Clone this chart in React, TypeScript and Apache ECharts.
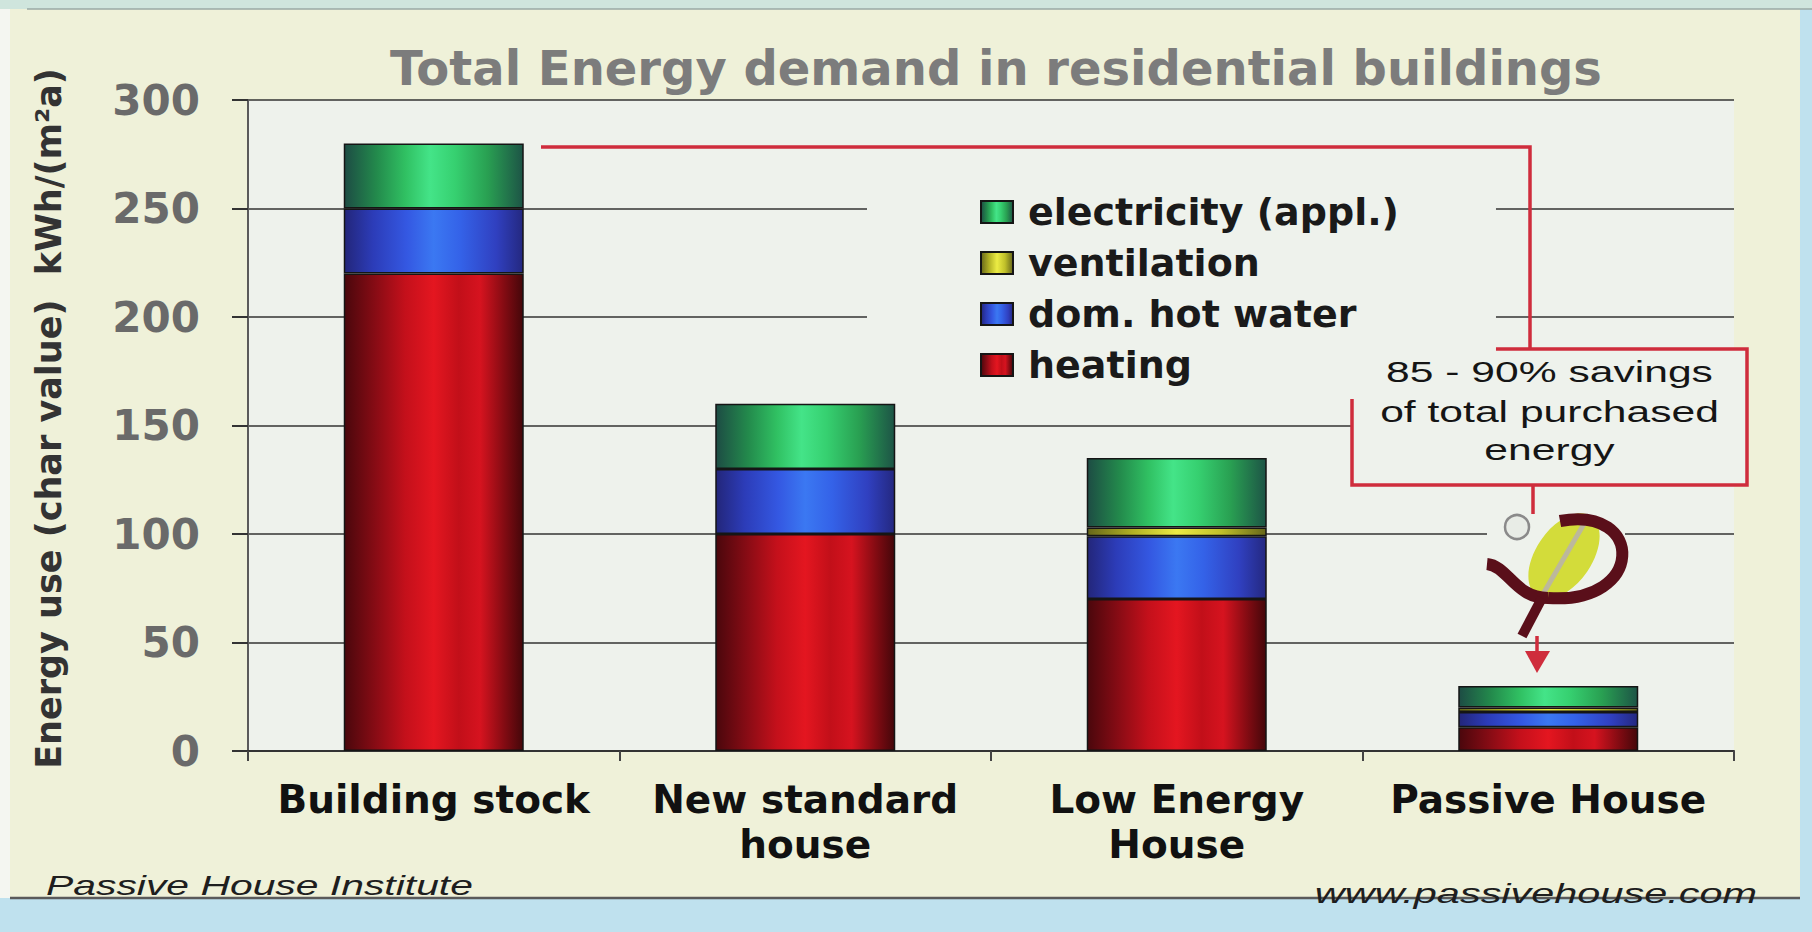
import React, { useEffect, useRef } from 'react';
import * as echarts from 'echarts';

// ---- data ----
const categories = ['Building stock', 'New standard\nhouse', 'Low Energy\nHouse', 'Passive House'];
const heating = [220, 100, 70, 11];
const hotWater = [30, 30, 29, 7];
const ventilation = [0, 0, 4, 2];
const electricity = [30, 30, 32, 10];
const legendOrder = ['electricity (appl.)', 'ventilation', 'dom. hot water', 'heating'];
const yMin = 0;
const yMax = 300;
const yStep = 50;
const titleText = 'Total Energy demand in residential buildings';
const yAxisName = 'Energy use (char value)  kWh/(m²a)';
const noteLines = ['85 - 90% savings', 'of total purchased', 'energy'];
const sourceLeft = 'Passive House Institute';
const sourceRight = 'www.passivehouse.com';

// ---- styles ----
const RED_STOPS: [number, string][] = [
  [0, '#4a070c'], [0.18, '#8a0c15'], [0.34, '#c4101b'], [0.5, '#e41620'],
  [0.64, '#c20f19'], [0.76, '#d6131f'], [0.9, '#800b12'], [1, '#44070a'],
];
const BLUE_STOPS: [number, string][] = [
  [0, '#23267a'], [0.16, '#2c3cb8'], [0.35, '#3458e2'], [0.5, '#3b78f2'],
  [0.65, '#3462e8'], [0.85, '#3040c0'], [1, '#242880'],
];
const GREEN_STOPS: [number, string][] = [
  [0, '#1d4c44'], [0.18, '#238a4c'], [0.34, '#30c062'], [0.48, '#44e488'],
  [0.62, '#36d070'], [0.8, '#29a052'], [1, '#1d5446'],
];
const YELLOW_STOPS: [number, string][] = [
  [0, '#66661a'], [0.25, '#b0b024'], [0.5, '#ecec44'], [0.75, '#c0c02a'], [1, '#66661a'],
];
const PLOT_BG = '#eef2ec';
const SLIDE_BG = '#eff1d9';
const RED_LINE = '#cf2d3c';
const MAROON = '#5a0f1a';

function grad(stops: [number, string][]) {
  return new echarts.graphic.LinearGradient(0, 0, 1, 0, stops.map(([offset, color]) => ({ offset, color })));
}

const seriesSpec = [
  { name: 'heating', data: heating, stops: RED_STOPS },
  { name: 'dom. hot water', data: hotWater, stops: BLUE_STOPS },
  { name: 'ventilation', data: ventilation, stops: YELLOW_STOPS },
  { name: 'electricity (appl.)', data: electricity, stops: GREEN_STOPS },
];

export default function App() {
  const ref = useRef<HTMLDivElement>(null);

  useEffect(() => {
    document.body.style.margin = '0';
    const chart = echarts.init(ref.current as HTMLDivElement, null, { renderer: 'svg' });

    const txt = (text: string, x: number, y: number, sx: number, style: any, z = 4) => ({
      type: 'text', z, x, y, scaleX: sx,
      style: { text, ...style },
    });

    const option: any = {
      animation: false,
      backgroundColor: '#bfe1ee',
      title: {
        text: titleText,
        left: 390,
        top: 44,
        padding: 0,
        textStyle: { fontFamily: 'DejaVu Sans', fontWeight: 'bold', fontSize: 48, lineHeight: 48, color: '#7c7c7c' },
      },
      legend: {
        data: legendOrder,
        orient: 'vertical',
        left: 867,
        top: 180,
        padding: [12, 97, 14, 113],
        backgroundColor: PLOT_BG,
        itemWidth: 32,
        itemHeight: 22,
        itemGap: 11,
        icon: 'rect',
        selectedMode: false,
        textStyle: {
          fontFamily: 'DejaVu Sans', fontWeight: 'bold', fontSize: 38, lineHeight: 40,
          color: '#1a1a1a', padding: [0, 0, 0, 10],
        },
      },
      grid: { left: 248, top: 100, width: 1486, height: 651 },
      xAxis: {
        type: 'category',
        data: categories,
        axisLine: { lineStyle: { color: '#333', width: 2 } },
        axisTick: { show: true, length: 10, lineStyle: { color: '#444', width: 2 } },
        axisLabel: {
          interval: 0, margin: 26, fontFamily: 'DejaVu Sans', fontWeight: 'bold',
          fontSize: 39, lineHeight: 45, color: '#111',
        },
        splitLine: { show: false },
      },
      yAxis: {
        type: 'value',
        min: yMin,
        max: yMax,
        interval: yStep,
        name: yAxisName,
        nameLocation: 'middle',
        nameRotate: 90,
        nameGap: 182,
        nameTextStyle: {
          fontFamily: 'DejaVu Sans', fontWeight: 'bold', fontSize: 35, color: '#333',
          padding: [0, 0, 0, 14],
        },
        axisLine: { show: true, lineStyle: { color: '#5a5a5a', width: 2 } },
        axisTick: { show: true, length: 16, lineStyle: { color: '#333', width: 2 } },
        axisLabel: { margin: 48, fontFamily: 'DejaVu Sans', fontWeight: 'bold', fontSize: 42, color: '#6a6a6a' },
        splitLine: { show: true, lineStyle: { color: '#333', width: 1.5 } },
      },
      series: seriesSpec.map((s) => ({
        type: 'bar',
        name: s.name,
        stack: 'total',
        barWidth: 180,
        data: s.data.map((v) => (v === 0 ? '-' : v)),
        itemStyle: { color: grad(s.stops), borderColor: '#151515', borderWidth: 1.5 },
        emphasis: { disabled: true },
      })),
      graphic: [
        // slide backgrounds
        { type: 'rect', z: -10, shape: { x: 0, y: 0, width: 1812, height: 9 }, style: { fill: '#cfe5dd' } },
        { type: 'rect', z: -10, shape: { x: 10, y: 9, width: 1790, height: 889 }, style: { fill: SLIDE_BG } },
        { type: 'rect', z: -10, shape: { x: 0, y: 9, width: 10, height: 889 }, style: { fill: '#f4f6f1' } },
        { type: 'line', z: -9, shape: { x1: 10, y1: 898, x2: 1800, y2: 898 }, style: { stroke: '#5a5a5a', lineWidth: 2.5 } },
        { type: 'line', z: -9, shape: { x1: 27, y1: 9, x2: 1812, y2: 9 }, style: { stroke: '#9aa8a4', lineWidth: 1.5 } },
        { type: 'rect', z: -9, shape: { x: 248, y: 100, width: 1486, height: 651 }, style: { fill: PLOT_BG } },
        // patch behind logo
        { type: 'rect', z: 1, shape: { x: 1487, y: 500, width: 138, height: 140 }, style: { fill: PLOT_BG } },
        // connector from building stock to note
        { type: 'polyline', z: 3, shape: { points: [[541, 147], [1530, 147], [1530, 349]] }, style: { stroke: RED_LINE, lineWidth: 3.5, fill: null } },
        { type: 'rect', z: 3, shape: { x: 1352, y: 349, width: 395, height: 136 }, style: { fill: PLOT_BG, stroke: RED_LINE, lineWidth: 3.5 } },
        txt(noteLines[0], 1549.5, 372, 1.47, { fontFamily: 'Liberation Sans', fontSize: 29, fill: '#151515', align: 'center', verticalAlign: 'middle' }),
        txt(noteLines[1], 1549.5, 412, 1.47, { fontFamily: 'Liberation Sans', fontSize: 29, fill: '#151515', align: 'center', verticalAlign: 'middle' }),
        txt(noteLines[2], 1549.5, 450, 1.47, { fontFamily: 'Liberation Sans', fontSize: 29, fill: '#151515', align: 'center', verticalAlign: 'middle' }),
        { type: 'line', z: 3, shape: { x1: 1533, y1: 485, x2: 1533, y2: 514 }, style: { stroke: RED_LINE, lineWidth: 3.5 } },
        // logo
        { type: 'ellipse', z: 4, x: 1564, y: 556, rotation: -0.6, shape: { cx: 0, cy: 0, rx: 28, ry: 48 }, style: { fill: '#d3dc3a' } },
        { type: 'line', z: 4, shape: { x1: 1543, y1: 594, x2: 1588, y2: 517 }, style: { stroke: '#bcb89c', lineWidth: 5 } },
        { type: 'bezierCurve', z: 5, shape: { x1: 1560, y1: 521, cpx1: 1645, cpy1: 505, cpx2: 1645, cpy2: 605, x2: 1548, y2: 598 }, style: { stroke: MAROON, lineWidth: 12 } },
        { type: 'bezierCurve', z: 5, shape: { x1: 1548, y1: 598, cpx1: 1515, cpy1: 598, cpx2: 1508, cpy2: 566, x2: 1487, y2: 564 }, style: { stroke: MAROON, lineWidth: 12 } },
        { type: 'line', z: 5, shape: { x1: 1542, y1: 598, x2: 1522, y2: 636 }, style: { stroke: MAROON, lineWidth: 10 } },
        { type: 'circle', z: 5, shape: { cx: 1517, cy: 527, r: 12 }, style: { fill: '#e8ece6', stroke: '#8a8a8a', lineWidth: 2.5 } },
        { type: 'line', z: 3, shape: { x1: 1537, y1: 636, x2: 1537, y2: 654 }, style: { stroke: RED_LINE, lineWidth: 3.5 } },
        { type: 'polygon', z: 3, shape: { points: [[1525, 651], [1550, 651], [1537, 673]] }, style: { fill: RED_LINE } },
        // footers
        txt(sourceLeft, 46, 885, 1.46, { fontFamily: 'Liberation Sans', fontStyle: 'italic', fontSize: 28, fill: '#1e1e1e', align: 'left', verticalAlign: 'middle' }),
        txt(sourceRight, 1757, 893, 1.48, { fontFamily: 'Liberation Sans', fontStyle: 'italic', fontSize: 28, fill: '#1e1e1e', align: 'right', verticalAlign: 'middle' }),
      ],
    };

    chart.setOption(option);
    return () => chart.dispose();
  }, []);

  return (
    <div
      ref={ref}
      style={{ position: 'absolute', left: 0, top: 0, width: '1812px', height: '932px' }}
    />
  );
}
